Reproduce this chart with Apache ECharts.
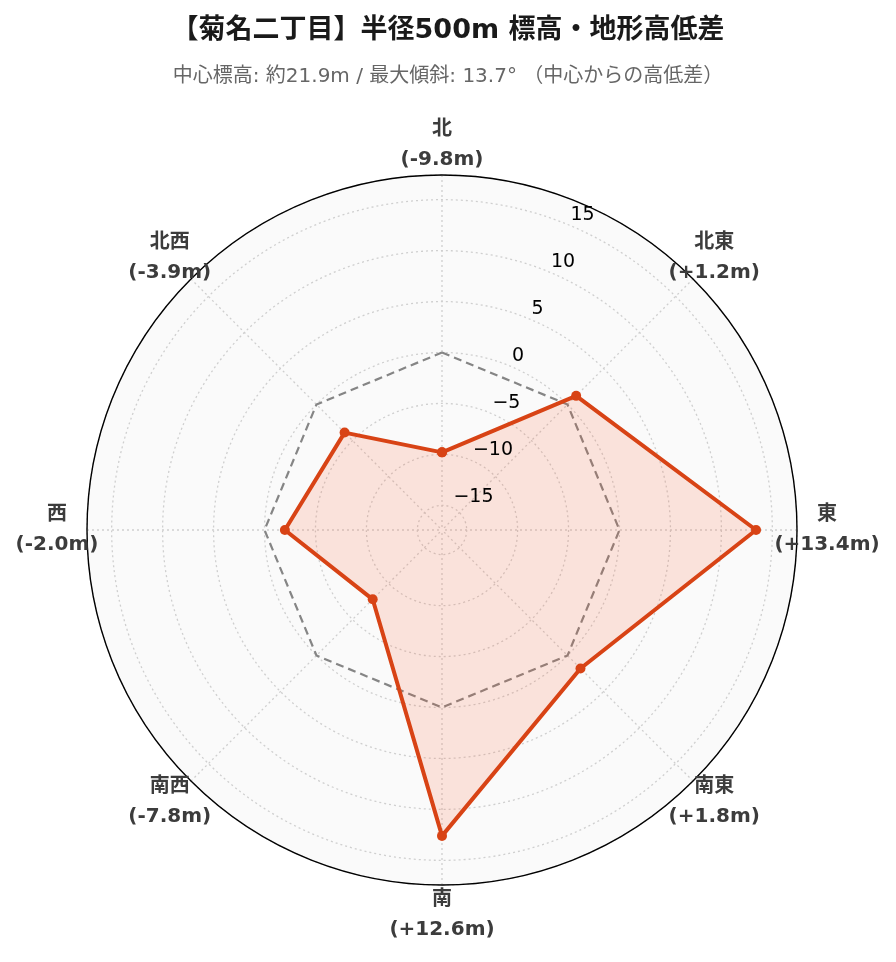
<!DOCTYPE html>
<html><head><meta charset="utf-8">
<script src="https://cdn.jsdelivr.net/npm/echarts@6/dist/echarts.min.js"></script>
<style>html,body{margin:0;padding:0;background:#fff}#chart{width:896px;height:962px}</style>
</head><body><div id="chart"></div>
<script>
// ---- data ----
const directions = ['北', '北東', '東', '南東', '南', '南西', '西', '北西'];
const angles = [0, 45, 90, 135, 180, 225, 270, 315];
const elevDiff = [-9.8, 1.2, 13.4, 1.8, 12.6, -7.8, -2.0, -3.9];
const zeroRef = [0, 0, 0, 0, 0, 0, 0, 0];
const radialTicks = [-15, -10, -5, 0, 5, 10, 15];
const rMin = -17.42, rMax = 17.42;
const titleText = '【菊名二丁目】半径500m 標高・地形高低差';
const subText = '中心標高: 約21.9m / 最大傾斜: 13.7° （中心からの高低差）';

// ---- styles ----
const FONT = "'DejaVu Sans', 'Noto Sans CJK JP', sans-serif";
const tickAngle = 22.5;
const labelGap = 30;
const gridLine = { color: '#cfcfcf', width: 1.3, type: [2, 3] };

const closeLoop = (vals) => {
  const d = vals.map((v, i) => [v, angles[i]]);
  d.push([vals[0], 360]);
  return d;
};

const dirLabelData = directions.map((name, i) => {
  const v = elevDiff[i];
  const a = angles[i] * Math.PI / 180;
  return {
    value: [rMax, angles[i]],
    name: name,
    label: {
      offset: [labelGap * Math.sin(a), -labelGap * Math.cos(a)],
      formatter: name + '\n(' + (v > 0 ? '+' : '') + v.toFixed(1) + 'm)'
    }
  };
});

const tickLabelData = radialTicks.map(t => ({
  value: [t, tickAngle],
  label: { formatter: (t < 0 ? '\u2212' + Math.abs(t) : String(t)) }
}));

const chart = echarts.init(document.getElementById('chart'), null, { renderer: 'canvas' });
chart.setOption({
  backgroundColor: '#ffffff',
  animation: false,
  title: [
    { text: titleText, left: 'center', top: 17, padding: 0,
      textStyle: { fontFamily: FONT, fontSize: 27, fontWeight: 'bold', color: '#1a1a1a' } },
    { text: subText, left: 'center', top: 67, padding: 0,
      textStyle: { fontFamily: FONT, fontSize: 20, fontWeight: 'normal', color: '#666' } }
  ],
  polar: [
    { center: [442, 530], radius: 355 },
    { center: [442, 530], radius: 355 }
  ],
  angleAxis: [
    {
      polarIndex: 0, z: 0,
      type: 'value', min: 0, max: 360, interval: 45, startAngle: 90, clockwise: true,
      axisLine: { show: false },
      axisTick: { show: false }, axisLabel: { show: false },
      splitLine: { show: false },
      splitArea: { show: true, areaStyle: { color: ['#fafafa'] } }
    },
    {
      polarIndex: 1, z: 2,
      type: 'value', min: 0, max: 360, interval: 45, startAngle: 90, clockwise: true,
      axisLine: { show: true, lineStyle: { color: '#000', width: 1.4 } },
      axisTick: { show: false }, axisLabel: { show: false },
      splitLine: { show: true, lineStyle: gridLine }
    }
  ],
  radiusAxis: [
    {
      polarIndex: 0, z: 0,
      type: 'value', min: rMin, max: rMax, splitNumber: 7,
      axisLine: { show: false }, axisTick: { show: false }, axisLabel: { show: false },
      splitLine: { show: false }
    },
    {
      polarIndex: 1, z: 1,
      type: 'value', min: rMin, max: rMax, splitNumber: 7,
      axisLine: { show: false }, axisTick: { show: false }, axisLabel: { show: false },
      splitLine: { show: true, lineStyle: gridLine }
    }
  ],
  series: [
    {
      name: '基準(0m)', type: 'line', coordinateSystem: 'polar', polarIndex: 1, z: 3,
      data: closeLoop(zeroRef), symbol: 'none', silent: true,
      lineStyle: { color: '#858585', width: 2.2, type: [8, 5] }
    },
    {
      name: '高低差', type: 'line', coordinateSystem: 'polar', polarIndex: 1, z: 4,
      data: closeLoop(elevDiff), symbol: 'circle', symbolSize: 10,
      itemStyle: { color: '#d84315' },
      lineStyle: { color: '#d84315', width: 4 },
      areaStyle: { color: 'rgba(255,87,34,0.2)', origin: 'start' }
    },
    {
      name: 'ticks', type: 'scatter', coordinateSystem: 'polar', polarIndex: 1, z: 6, clip: false, silent: true,
      symbolSize: 0, data: tickLabelData, itemStyle: { opacity: 1 },
      label: { show: true, position: 'right', distance: 2, offset: [0, -10],
        fontFamily: FONT, fontSize: 19, color: '#000' }
    },
    {
      name: 'dirs', type: 'scatter', coordinateSystem: 'polar', polarIndex: 1, z: 6, clip: false, silent: true,
      symbolSize: 0, data: dirLabelData, itemStyle: { opacity: 1 },
      label: { show: true, position: 'inside', fontFamily: FONT, fontSize: 20, fontWeight: 'bold',
        color: '#3c3c3c', lineHeight: 30, align: 'center', verticalAlign: 'middle' }
    }
  ]
});
</script></body></html>
